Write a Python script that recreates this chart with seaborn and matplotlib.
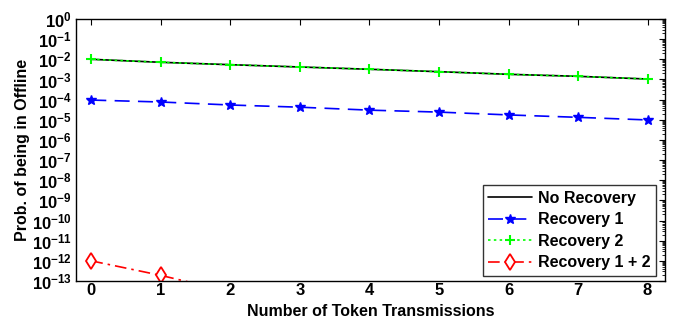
import numpy as np
import pandas as pd
import matplotlib
matplotlib.use("Agg")
import matplotlib.pyplot as plt
import matplotlib.ticker as mticker
import seaborn as sns

# Number of token transmissions
transmissions = [0, 1, 2, 3, 4, 5, 6, 7, 8]

# Probability of a node being offline under each scheme
no_recovery = [1.0e-2, 7.1e-3, 5.4e-3, 4.15e-3, 3.2e-3, 2.43e-3, 1.8e-3, 1.43e-3, 1.05e-3]
recovery_1 = [9.5e-5, 7.6e-5, 5.4e-5, 4.2e-5, 3.0e-5, 2.4e-5, 1.74e-5, 1.32e-5, 9.8e-6]
recovery_2 = [1.0e-2, 7.1e-3, 5.4e-3, 4.15e-3, 3.2e-3, 2.43e-3, 1.8e-3, 1.43e-3, 1.05e-3]
recovery_12 = [1.0e-12, 1.9e-13, 2.9e-14, 4.5e-15, 6.8e-16, 1.0e-16, 1.5e-17, 2.3e-18, 3.5e-19]

series_names = ["No Recovery", "Recovery 1", "Recovery 2", "Recovery 1 + 2"]
series_values = [no_recovery, recovery_1, recovery_2, recovery_12]

df = pd.DataFrame({
    "x": transmissions * len(series_names),
    "p": sum(series_values, []),
    "scheme": np.repeat(series_names, len(transmissions)),
})

sns.set_style("white")
FONT = "Liberation Sans"
plt.rcParams["font.family"] = [FONT, "DejaVu Sans"]
plt.rcParams["font.weight"] = "bold"
plt.rcParams["text.color"] = "black"
plt.rcParams["axes.labelcolor"] = "black"
plt.rcParams["xtick.color"] = "black"
plt.rcParams["ytick.color"] = "black"
plt.rcParams["mathtext.fontset"] = "custom"
plt.rcParams["mathtext.rm"] = FONT + ":bold"
plt.rcParams["mathtext.bf"] = FONT + ":bold"
plt.rcParams["mathtext.default"] = "bf"

fig = plt.figure(figsize=(6.78, 3.24), dpi=100)
ax = fig.add_axes([0.1121, 0.1327, 0.8687, 0.8087])

styles = {
    "No Recovery": dict(color="black", ls="-"),
    "Recovery 1": dict(color="#0000ff", ls=(0, (9, 5))),
    "Recovery 2": dict(color="#00ff00", ls=(0, (1.5, 2.0))),
    "Recovery 1 + 2": dict(color="#ff0000", ls=(0, (7, 3, 1.5, 3))),
}

for name in series_names:
    st = styles[name]
    sub = df[df["scheme"] == name]
    kw = dict(linewidth=1.2, color=st["color"], linestyle=st["ls"], label=name)
    if name == "Recovery 1":
        kw.update(marker="*", markersize=7, markeredgecolor=st["color"],
                  markerfacecolor=st["color"], markeredgewidth=1.0)
    elif name == "Recovery 2":
        kw.update(marker="+", markersize=7, markeredgewidth=1.5, markeredgecolor=st["color"])
    elif name == "Recovery 1 + 2":
        kw.update(marker="d", markersize=8, markerfacecolor="white",
                  markeredgecolor=st["color"], markeredgewidth=1.3)
    sns.lineplot(data=sub, x="x", y="p", ax=ax, **kw)

ax.set_yscale("log")
ax.set_ylim(1e-13, 1e0)
ax.set_xlim(-0.22, 8.25)

ax.yaxis.set_major_locator(mticker.LogLocator(base=10, numticks=20))
ax.yaxis.set_minor_locator(mticker.LogLocator(base=10, subs=np.arange(2, 10), numticks=20))
ax.yaxis.set_minor_formatter(mticker.NullFormatter())
ax.yaxis.set_major_formatter(mticker.FuncFormatter(
    lambda v, pos: r"$\mathbf{10^{%d}}$" % int(round(np.log10(v)))))
ax.set_xticks(transmissions)

ax.tick_params(which="both", direction="in", top=True, right=True, colors="black")
ax.tick_params(which="major", length=4, width=0.8, labelsize=12)
ax.tick_params(axis="x", which="major", pad=1.5)
ax.tick_params(axis="y", which="major", pad=3)
ax.tick_params(which="minor", length=2, width=0.6)
for lab in ax.get_xticklabels():
    lab.set_fontweight("bold")

for s in ax.spines.values():
    s.set_color("black")
    s.set_linewidth(1.0)

ax.set_xlabel("Number of Token Transmissions", fontsize=11.5, fontweight="bold", labelpad=4)
ax.set_ylabel("Prob. of being in Offline", fontsize=11.5, fontweight="bold", labelpad=1.5)

leg = ax.legend(loc="lower right", bbox_to_anchor=(0.985, 0.02), frameon=True,
                fancybox=False, edgecolor="black", fontsize=11.5,
                handlelength=2.7, borderpad=0.35, labelspacing=0.4, handletextpad=0.4,
                borderaxespad=0.0)
leg.get_frame().set_linewidth(1.0)
for t in leg.get_texts():
    t.set_fontweight("bold")
    t.set_color("black")

fig.savefig("out.png", dpi=100)
